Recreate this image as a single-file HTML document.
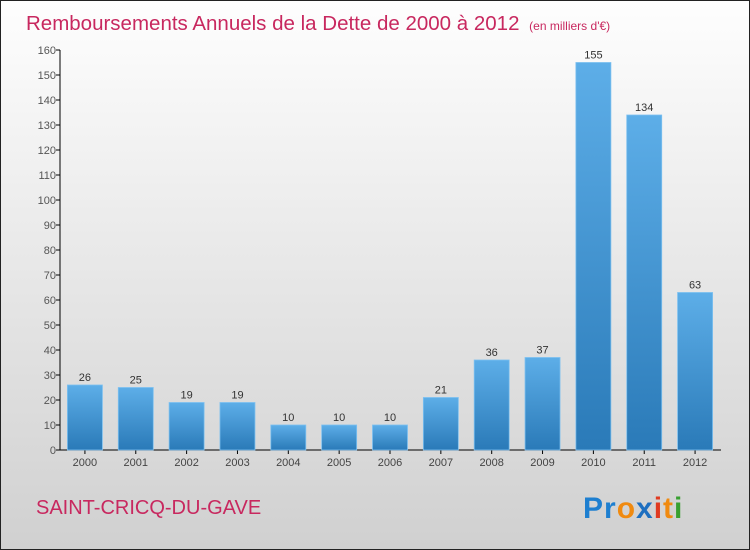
<!DOCTYPE html>
<html><head><meta charset="utf-8"><style>
body{margin:0}
svg{display:block;font-family:"Liberation Sans",sans-serif}
</style></head><body>
<svg width="750" height="550">
<defs>
<linearGradient id="bg" x1="0" y1="0" x2="0" y2="1"><stop offset="0" stop-color="#fefefe"/><stop offset="1" stop-color="#d0d0d0"/></linearGradient>
<linearGradient id="bar" x1="0" y1="0" x2="0" y2="1"><stop offset="0" stop-color="#5daee8"/><stop offset="1" stop-color="#2a7ab8"/></linearGradient>
</defs>
<rect x="0.5" y="0.5" width="749" height="549" fill="url(#bg)" stroke="#222"/>
<text x="26" y="30" font-size="20.5" fill="#c8285f">Remboursements Annuels de la Dette de 2000 à 2012 <tspan font-size="12" dx="4">(en milliers d'€)</tspan></text>
<g id="axes"></g>
<g id="bars"></g>
<text x="36" y="514" font-size="20" fill="#c8285f">SAINT-CRICQ-DU-GAVE</text>
<text x="583" y="518" font-size="30" font-weight="bold" letter-spacing="1"><tspan fill="#1e7fd0">Pr</tspan><tspan fill="#f08a10">o</tspan><tspan fill="#1e6fc0">x</tspan><tspan fill="#e03a20">i</tspan><tspan fill="#f08a10">t</tspan><tspan fill="#38a030">i</tspan></text>
</svg>
<script>
const categories=["2000","2001","2002","2003","2004","2005","2006","2007","2008","2009","2010","2011","2012"];
const values=[26,25,19,19,10,10,10,21,36,37,155,134,63];
const yTicks=[0,10,20,30,40,50,60,70,80,90,100,110,120,130,140,150,160];
const NS="http://www.w3.org/2000/svg";
const y0=450,yTop=50,yMax=160,xL=60,xR=721;
const y=v=>y0-(v/yMax)*(y0-yTop);
const step=(xR-xL)/categories.length;
const x=i=>xL+step*(i+0.5)-0.5;
function mk(t,a,p){const e=document.createElementNS(NS,t);for(const k in a)e.setAttribute(k,a[k]);p.appendChild(e);return e;}
const ax=document.getElementById('axes'),bg=document.getElementById('bars');
const yl=mk('line',{x1:xL,y1:yTop,x2:xL,y2:y0,stroke:'#000'},ax);


const xl=mk('line',{x1:xL,y1:y0,x2:xR,y2:y0,stroke:'#000'},ax);


yTicks.forEach(v=>{
 mk('line',{x1:xL-4,y1:y(v),x2:xL,y2:y(v),stroke:'#000'},ax);
 const t=mk('text',{x:xL-4,y:y(v)+4,'font-size':11,fill:'#555','text-anchor':'end'},ax);
 t.textContent=v;
 
 
});
categories.forEach((c,i)=>{
 const cx=x(i),v=values[i];
 const r=mk('rect',{x:cx-17.5,y:y(v),width:35,height:y0-y(v),fill:'url(#bar)',stroke:'#7cc0f0','stroke-width':0.8},bg);
 
 
 const lb=mk('text',{x:cx,y:y(v)-4,'font-size':11,fill:'#333','text-anchor':'middle'},bg);
 lb.textContent=v;
 
 
 mk('line',{x1:cx,y1:y0,x2:cx,y2:y0+4,stroke:'#000'},ax);
 const t=mk('text',{x:cx,y:y0+16,'font-size':11,fill:'#444','text-anchor':'middle'},ax);
 t.textContent=c;
 
 
});
</script>
</body></html>
